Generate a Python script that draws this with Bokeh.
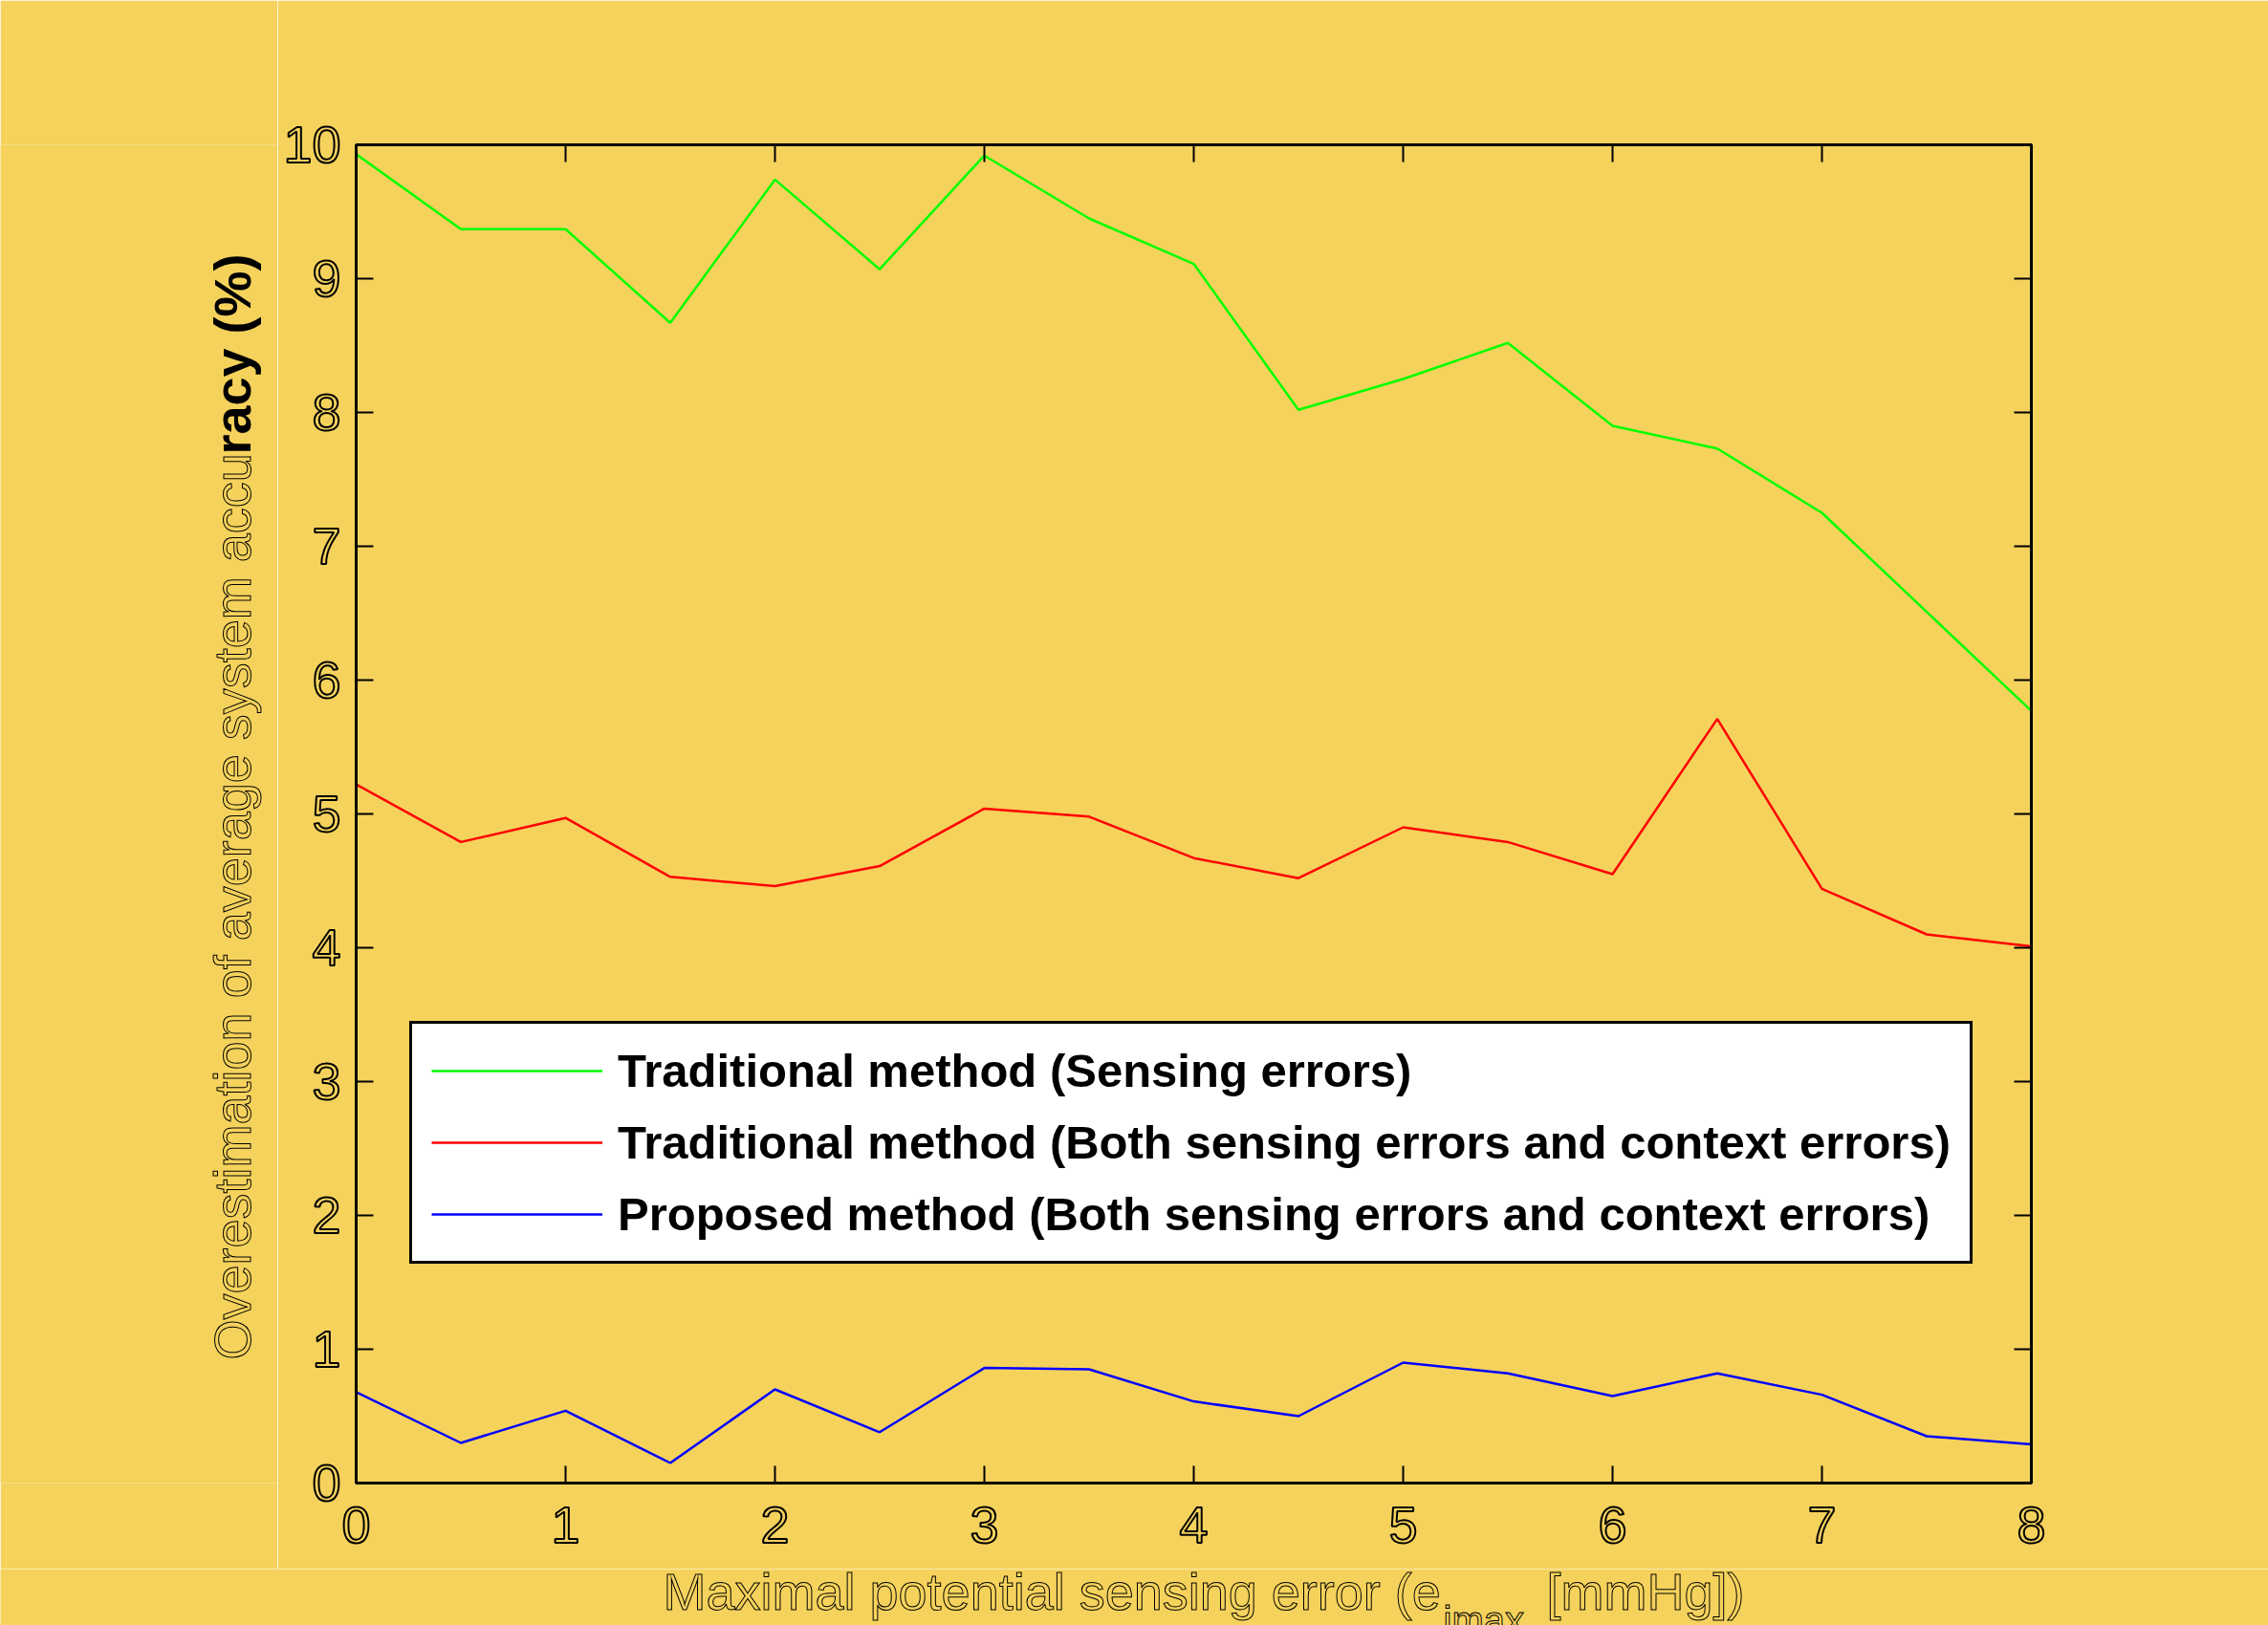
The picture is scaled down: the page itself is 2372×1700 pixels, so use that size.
import math
from bokeh.plotting import figure
from bokeh.layouts import row, column
from bokeh.models import LinearAxis, Range1d, Legend, LegendItem, FixedTicker
from bokeh.core.properties import value
from bokeh.embed import file_html
from bokeh.resources import INLINE

# ---------------- data ----------------
sensing_error = [0, 0.5, 1, 1.5, 2, 2.5, 3, 3.5, 4, 4.5, 5, 5.5, 6, 6.5, 7, 7.5, 8]
trad_sensing = [9.93, 9.37, 9.37, 8.67, 9.74, 9.07, 9.92, 9.45, 9.11, 8.02,
                8.25, 8.52, 7.90, 7.73, 7.25, 6.51, 5.77]
trad_both = [5.22, 4.79, 4.97, 4.53, 4.46, 4.61, 5.04, 4.98, 4.67, 4.52,
             4.90, 4.79, 4.55, 5.71, 4.44, 4.10, 4.01]
proposed_both = [0.68, 0.30, 0.54, 0.15, 0.70, 0.38, 0.86, 0.85, 0.61, 0.50,
                 0.90, 0.82, 0.65, 0.82, 0.66, 0.35, 0.29]
series_names = ["Traditional method (Sensing errors)",
                "Traditional method (Both sensing errors and context errors)",
                "Proposed method (Both sensing errors and context errors)"]
series_colors = ["#00FF00", "#FF0000", "#0000FF"]
x_ticks = [0, 1, 2, 3, 4, 5, 6, 7, 8]
y_ticks = [0, 1, 2, 3, 4, 5, 6, 7, 8, 9, 10]
y_title_plain = "Overestimation of average system accu"
y_title_bold = "racy (%)"
x_title_main = "Maximal potential sensing error (e"
x_title_sub = "imax"
x_title_end = "[mmHg])"

BG = "#F5D25C"
FONT = "Liberation Sans"

TOTAL_W, TOTAL_H = 2372, 1700
YT_W = 290            # strip holding the y title
MAIN_H = 1641         # main figure height
XT_H = TOTAL_H - MAIN_H
FRAME_TOP, FRAME_BOTTOM = 151, 1551

# ---------------- main chart ----------------
p = figure(width=TOTAL_W - YT_W, height=MAIN_H, output_backend="svg", toolbar_location=None,
           title=None, x_range=Range1d(0, 8), y_range=Range1d(0, 10),
           min_border_left=82, min_border_right=TOTAL_W - YT_W - 82 - 1752,
           min_border_top=FRAME_TOP, min_border_bottom=MAIN_H - FRAME_BOTTOM,
           background_fill_color=BG, border_fill_color=BG,
           outline_line_color="black", outline_line_width=3)
p.grid.visible = False


def style_axis(ax, ticks, show_labels, standoff):
    ax.ticker = FixedTicker(ticks=ticks)
    ax.axis_line_color = "black"
    ax.axis_line_width = 3
    ax.major_tick_in = 18
    ax.major_tick_out = 0
    ax.major_tick_line_width = 2
    ax.major_tick_line_color = "black"
    ax.minor_tick_line_color = None
    if show_labels:
        ax.major_label_text_font = FONT
        ax.major_label_text_font_size = "54px"
        ax.major_label_text_color = BG
        ax.major_label_text_outline_color = "black"
        ax.major_label_standoff = standoff
    else:
        ax.major_label_text_color = None


style_axis(p.xaxis[0], x_ticks, True, 25)
style_axis(p.yaxis[0], y_ticks, True, 16)
top_ax = LinearAxis()
right_ax = LinearAxis()
style_axis(top_ax, x_ticks, False, 0)
style_axis(right_ax, y_ticks, False, 0)
p.add_layout(top_ax, "above")
p.add_layout(right_ax, "right")

renderers = []
for ys, c in zip([trad_sensing, trad_both, proposed_both], series_colors):
    renderers.append(p.line(sensing_error, ys, line_color=c, line_width=2.5))

legend = Legend(items=[LegendItem(label=n, renderers=[r]) for n, r in zip(series_names, renderers)],
                location=(56, 229), orientation="vertical",
                border_line_color="black", border_line_width=3, border_line_alpha=1.0,
                background_fill_color="white", background_fill_alpha=1.0,
                label_text_font=FONT, label_text_font_style="bold",
                label_text_font_size="49px", label_text_color="black",
                glyph_width=179, glyph_height=58, label_height=58,
                spacing=17, padding=20, label_standoff=16, margin=0)
p.add_layout(legend)


def strip(w, h, xr, yr):
    f = figure(width=w, height=h, output_backend="svg", toolbar_location=None,
               title=None, x_range=xr, y_range=yr,
               x_axis_type=None, y_axis_type=None,
               min_border=0, background_fill_color=BG, border_fill_color=BG,
               outline_line_color=None)
    f.grid.visible = False
    return f


# ---------------- y-axis title strip (frame aligned with the main frame) ----------------
yt = strip(YT_W, MAIN_H, Range1d(0, YT_W), Range1d(FRAME_BOTTOM, FRAME_TOP))
yt.text(x=[242], y=[1422], text=[y_title_plain], angle=math.pi / 2,
        text_align="left", text_baseline="alphabetic",
        text_font=value(FONT), text_font_size=value("54px"),
        text_color=BG, text_outline_color="black")
yt.text(x=[242], y=[475], text=[y_title_bold], angle=math.pi / 2,
        text_align="left", text_baseline="alphabetic",
        text_font=value(FONT), text_font_size=value("54px"), text_font_style="bold",
        text_color="black")

# ---------------- x-axis title strip ----------------
xt = strip(TOTAL_W, XT_H, Range1d(0, TOTAL_W), Range1d(TOTAL_H, MAIN_H))
xt.text(x=[693], y=[1664], text=[x_title_main], text_align="left", text_baseline="alphabetic",
        text_font=value(FONT), text_font_size=value("54px"),
        text_color=BG, text_outline_color="black")
xt.text(x=[1509], y=[1694], text=[x_title_sub], text_align="left", text_baseline="alphabetic",
        text_font=value(FONT), text_font_size=value("40px"),
        text_color=BG, text_outline_color="black")
xt.text(x=[1617], y=[1664], text=[x_title_end], text_align="left", text_baseline="alphabetic",
        text_font=value(FONT), text_font_size=value("54px"),
        text_color=BG, text_outline_color="black")

layout = column(row(yt, p), xt)
open("out.html", "w").write(file_html(layout, INLINE))
